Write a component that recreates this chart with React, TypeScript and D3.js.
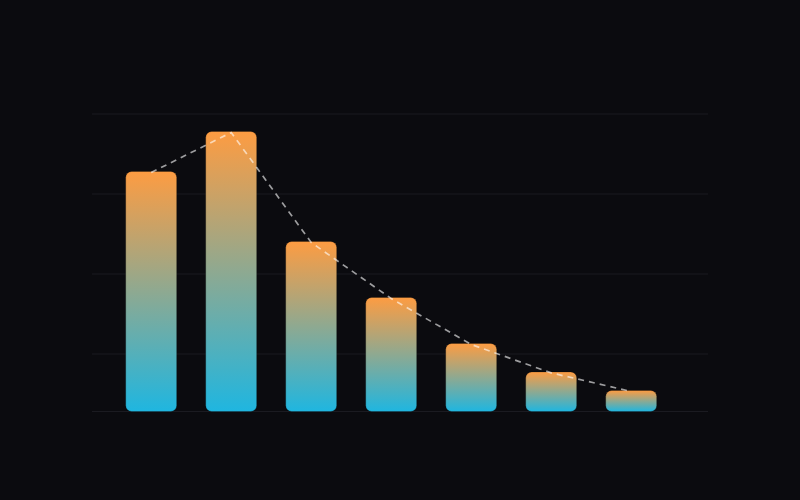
import * as d3 from 'd3'
import { useEffect, useRef } from 'react'

const categories = ['A', 'B', 'C', 'D', 'E', 'F', 'G']
const values = [12.0, 14.0, 8.5, 5.7, 3.4, 1.98, 1.05]
const gridFractions = [0.2, 0.4, 0.6, 0.8]

export default function App(){
  const svgRef = useRef<SVGSVGElement|null>(null)
  const size = { width: 800, height: 500 }

  useEffect(()=>{
    const svg = d3.select(svgRef.current)
    svg.selectAll('*').remove()
    const { width, height } = size

    svg.append('rect').attr('width', width).attr('height', height).attr('fill', '#0b0b0f')

    const defs = svg.append('defs')
    const grad = defs.append('linearGradient')
      .attr('id', 'barGrad')
      .attr('x1', 0).attr('y1', 0).attr('x2', 0).attr('y2', 1)
    grad.append('stop').attr('offset', '0%').attr('stop-color', '#fd9c42')
    grad.append('stop').attr('offset', '100%').attr('stop-color', '#1fb6e0')

    // plot frame
    const left = 92, right = 708
    const frame = d3.scaleLinear().domain([0, 1]).range([434, 34])

    const x = d3.scaleBand<string>()
      .domain(categories)
      .range([111.2, 671.2])
      .paddingInner(0.3625)
      .paddingOuter(0.18125)

    const y = d3.scaleLinear().domain([0, 14]).range([411.5, 131.5])

    // grid
    const grid = svg.append('g').attr('stroke', '#1b1b21').attr('stroke-width', 1)
    grid.selectAll('line.g')
      .data(gridFractions)
      .join('line')
      .attr('x1', left).attr('x2', right)
      .attr('y1', (d: number)=>frame(d)).attr('y2', (d: number)=>frame(d))
    grid.append('line')
      .attr('x1', left).attr('x2', right)
      .attr('y1', y(0)).attr('y2', y(0))

    // bars
    svg.append('g').selectAll('rect.bar')
      .data(values)
      .join('rect')
      .attr('x', (_d: number, i: number)=> x(categories[i])!)
      .attr('y', (d: number)=> y(d))
      .attr('width', x.bandwidth())
      .attr('height', (d: number)=> y(0) - y(d))
      .attr('rx', 6)
      .attr('fill', 'url(#barGrad)')
      .attr('stroke', 'rgba(0,0,0,0.25)')
      .attr('stroke-width', 1)

    // dashed trend through bar tops
    const line = d3.line<number>()
      .x((_d, i)=> x(categories[i])! + x.bandwidth()/2)
      .y((d)=> y(d) + 1)
      .curve(d3.curveLinear)

    svg.append('path')
      .datum(values)
      .attr('d', line)
      .attr('fill', 'none')
      .attr('stroke', '#ffffff')
      .attr('stroke-opacity', 0.6)
      .attr('stroke-width', 1.7)
      .attr('stroke-dasharray', '6 5')
  }, [])

  return (
    <svg ref={svgRef} width={size.width} height={size.height}
      style={{ position: 'absolute', left: 0, top: 0, display: 'block' }}></svg>
  )
}
